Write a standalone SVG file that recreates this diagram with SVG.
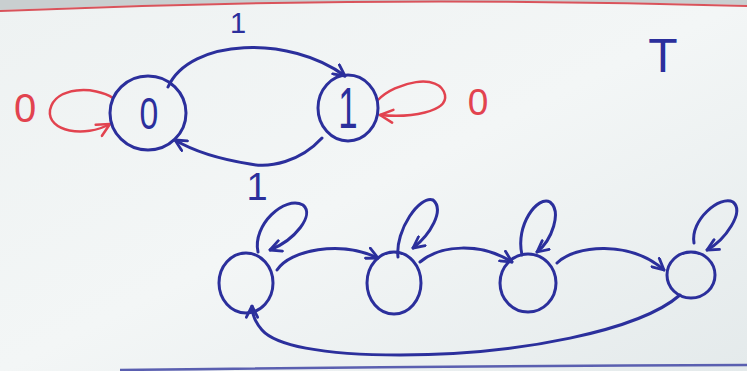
<svg xmlns="http://www.w3.org/2000/svg" width="747" height="371" viewBox="0 0 747 371">
<style>
.ink{fill:none;stroke:#2b2f9c;stroke-width:3;stroke-linecap:round;stroke-linejoin:round}
.red{fill:none;stroke:#e2434f;stroke-width:2.5;stroke-linecap:round;stroke-linejoin:round}
.lb{font-family:"Liberation Sans",Arial,sans-serif;fill:#2b2f9c;text-anchor:middle}
.lr{font-family:"Liberation Sans",Arial,sans-serif;fill:#e2434f;text-anchor:middle}
</style>
<defs>
<linearGradient id="bg" x1="0" y1="0" x2="1" y2="1">
<stop offset="0" stop-color="#eef2f2"/>
<stop offset="0.5" stop-color="#f3f6f6"/>
<stop offset="1" stop-color="#e4eaeb"/>
</linearGradient>
<marker id="ab" viewBox="0 0 10 10" refX="9" refY="5" markerWidth="14" markerHeight="14" markerUnits="userSpaceOnUse" orient="auto">
<path d="M1,1 L9,5 L1,9" fill="none" stroke="#2b2f9c" stroke-width="2" stroke-linecap="round" stroke-linejoin="round"/>
</marker>
<marker id="ar" viewBox="0 0 10 10" refX="9" refY="5" markerWidth="16" markerHeight="16" markerUnits="userSpaceOnUse" orient="auto">
<path d="M1,1 L9,5 L1,9" fill="none" stroke="#e2434f" stroke-width="1.6" stroke-linecap="round" stroke-linejoin="round"/>
</marker>
</defs>
<rect width="747" height="371" fill="url(#bg)"/>
<path d="M0,0 L747,0 L747,5 Q370,-5 0,10 Z" fill="#c9cfd0"/>
<path d="M0,11 Q370,-5 747,6" fill="none" stroke="#d9535b" stroke-width="2"/>
<path d="M120,370 Q430,366 747,365" fill="none" stroke="#5a5fb0" stroke-width="2.5"/>

<g id="connectors">
<path id="e0to1" class="ink" d="M168,87 C190,38 290,35 345,76" marker-end="url(#ab)"/>
<path id="e1to0" class="ink" d="M322,138 C300,162 270,168 250,164 C225,160 195,152 175,140" marker-end="url(#ab)"/>
<path id="loop0" class="red" d="M113,98 C95,86 55,86 50,110 C47,132 85,138 110,124" marker-end="url(#ar)"/>
<path id="loop1" class="red" d="M378,100 C395,82 440,72 445,95 C448,112 410,118 380,115" marker-end="url(#ar)"/>
<path id="loopA" class="ink" d="M258,252 C252,225 285,195 303,205 C315,215 295,240 270,250" marker-end="url(#ab)"/>
<path id="eAB" class="ink" d="M277,270 C290,250 340,240 378,258" marker-end="url(#ab)"/>
<path id="loopB" class="ink" d="M398,257 C395,230 420,195 433,200 C445,210 430,235 413,248" marker-end="url(#ab)"/>
<path id="eBC" class="ink" d="M420,262 C440,245 480,242 512,262" marker-end="url(#ab)"/>
<path id="loopC" class="ink" d="M522,255 C515,225 538,195 550,202 C562,212 552,240 537,252" marker-end="url(#ab)"/>
<path id="eCD" class="ink" d="M557,263 C575,245 630,240 664,270" marker-end="url(#ab)"/>
<path id="loopD" class="ink" d="M694,243 C690,220 720,195 733,202 C745,212 725,240 707,250" marker-end="url(#ab)"/>
<path id="eDA" class="ink" d="M680,295 C640,330 520,355 400,355 C320,355 275,345 262,330 C255,322 252,314 252,306" marker-end="url(#ab)"/>
</g>

<g id="labels">
<text class="lb" x="238" y="33" font-size="29">1</text>
<text class="lb" x="257" y="200" font-size="38">1</text>
<text class="lr" x="25" y="122" font-size="40">0</text>
<text class="lr" x="478" y="115" font-size="37">0</text>
<text class="lb" x="663" y="72" font-size="48">T</text>
</g>

<g id="node0">
<ellipse class="ink" cx="148" cy="113" rx="38" ry="37"/>
<text class="lb" x="0" y="0" font-size="45" transform="translate(149,129) scale(0.75,1)">0</text>
</g>
<g id="node1">
<ellipse class="ink" cx="348" cy="108" rx="30" ry="33"/>
<text class="lb" x="348" y="128" font-size="58" transform="translate(348,0) scale(0.6,1) translate(-348,0)">1</text>
</g>
<g id="nodeA"><ellipse class="ink" cx="246" cy="283" rx="27" ry="30"/></g>
<g id="nodeB"><ellipse class="ink" cx="394" cy="283" rx="27" ry="31"/></g>
<g id="nodeC"><ellipse class="ink" cx="528" cy="283" rx="28" ry="29"/></g>
<g id="nodeD"><ellipse class="ink" cx="691" cy="275" rx="24" ry="23"/></g>
</svg>
